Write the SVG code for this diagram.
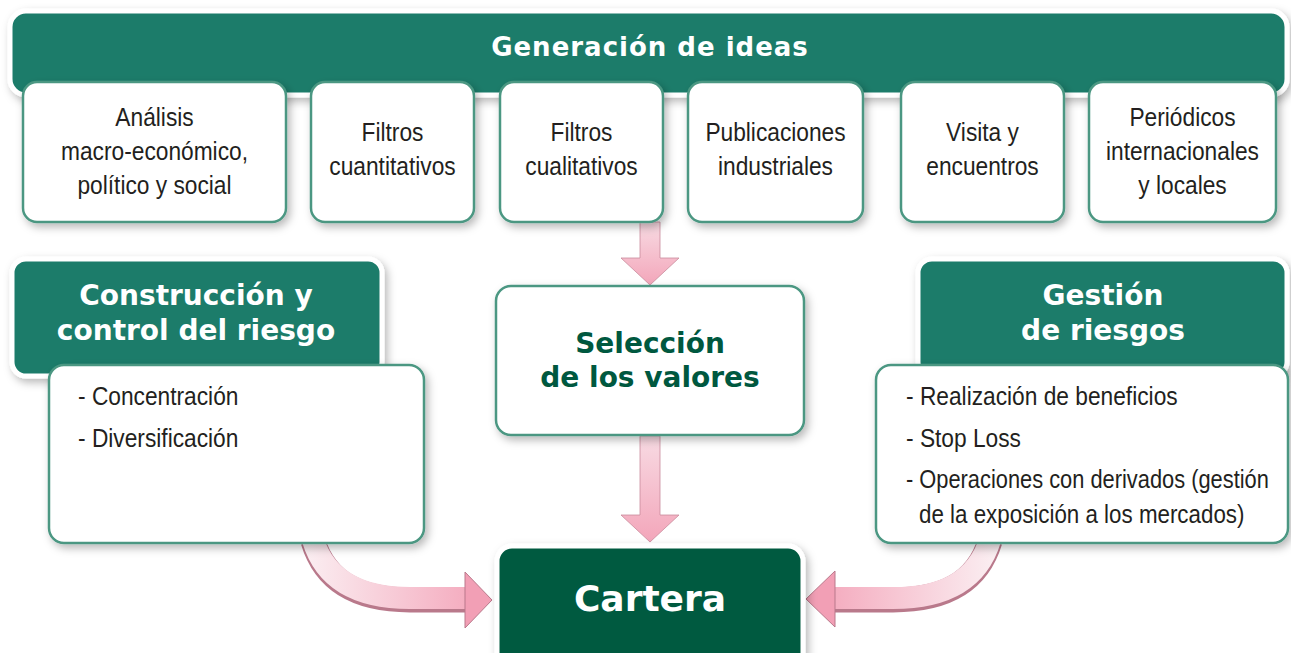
<svg xmlns="http://www.w3.org/2000/svg" width="1291" height="653" viewBox="0 0 1291 653">
<defs>
<style>
.hdr{fill:#1b7b6a;stroke:#fff;stroke-width:5}
.box{fill:#fff;stroke:#4b9782;stroke-width:2.5}
.ttl{font-family:"DejaVu Sans",sans-serif;font-weight:bold;fill:#fff;text-anchor:middle}
.body{font-family:"Liberation Sans",Arial,sans-serif;font-size:26px;fill:#231f20}
.mid{text-anchor:middle}
.sel{font-family:"DejaVu Sans",sans-serif;font-weight:bold;font-size:28px;fill:#00583f;text-anchor:middle}
</style>
<filter id="sh" x="-10%" y="-10%" width="125%" height="130%">
<feDropShadow dx="3" dy="4" stdDeviation="4" flood-color="#000" flood-opacity="0.28"/>
</filter>
<linearGradient id="gv" x1="0" y1="0" x2="0" y2="1">
<stop offset="0" stop-color="#f8dbe3"/>
<stop offset="1" stop-color="#f3a6ba"/>
</linearGradient>
<linearGradient id="gl" gradientUnits="userSpaceOnUse" x1="300" y1="0" x2="480" y2="0">
<stop offset="0" stop-color="#fbf0f3"/>
<stop offset="1" stop-color="#f4a8bc"/>
</linearGradient>
<linearGradient id="gr" gradientUnits="userSpaceOnUse" x1="1000" y1="0" x2="820" y2="0">
<stop offset="0" stop-color="#fbf0f3"/>
<stop offset="1" stop-color="#f4a8bc"/>
</linearGradient>
</defs>
<rect width="1291" height="653" fill="#fff"/>

<g id="connectors">
<g id="arrow-filtros-seleccion">
<path d="M640,222 L660,222 L660,258 L679,258 L650,285 L621,258 L640,258 Z" fill="url(#gv)" stroke="#c98b9c" stroke-width="0.8"/>
</g>
<g id="arrow-seleccion-cartera">
<path d="M640,436 L660,436 L660,515 L679,515 L650,542 L621,515 L640,515 Z" fill="url(#gv)" stroke="#c98b9c" stroke-width="0.8"/>
</g>
<g id="arrow-construccion-cartera">
<path d="M313,541 C326,584 362,600 410,600 L467,600" fill="none" stroke="#b9798b" stroke-width="25"/>
<path d="M313,540 C326,582 362,598 410,598 L467,598" fill="none" stroke="url(#gl)" stroke-width="22"/>
<path d="M465,572 L492,600 L465,628 Z" fill="#f29fb5" stroke="#b9798b" stroke-width="1"/>
</g>
<g id="arrow-gestion-cartera">
<path d="M990,541 C977,584 942,600 893,600 L833,600" fill="none" stroke="#b9798b" stroke-width="25"/>
<path d="M990,540 C977,582 942,598 893,598 L833,598" fill="none" stroke="url(#gr)" stroke-width="22"/>
<path d="M835,571 L806,599 L835,627 Z" fill="#f29fb5" stroke="#b9798b" stroke-width="1"/>
</g>
</g>

<g id="generacion">
<rect class="hdr" x="10" y="11" width="1277" height="84" rx="16" filter="url(#sh)"/>
<text class="ttl" x="650" y="56" font-size="26" letter-spacing="1">Generación de ideas</text>
</g>

<g id="analisis">
<rect class="box" x="23" y="82" width="263" height="140" rx="14" filter="url(#sh)"/>
<text class="body mid" transform="translate(154.5,126) scale(0.875,1)">Análisis</text>
<text class="body mid" transform="translate(154.5,160) scale(0.875,1)">macro-económico,</text>
<text class="body mid" transform="translate(154.5,194) scale(0.875,1)">político y social</text>
</g>
<g id="filtros-cuantitativos">
<rect class="box" x="311" y="82" width="163" height="140" rx="14" filter="url(#sh)"/>
<text class="body mid" transform="translate(392.5,141) scale(0.875,1)">Filtros</text>
<text class="body mid" transform="translate(392.5,175) scale(0.875,1)">cuantitativos</text>
</g>
<g id="filtros-cualitativos">
<rect class="box" x="500" y="82" width="163" height="140" rx="14" filter="url(#sh)"/>
<text class="body mid" transform="translate(581.5,141) scale(0.875,1)">Filtros</text>
<text class="body mid" transform="translate(581.5,175) scale(0.875,1)">cualitativos</text>
</g>
<g id="publicaciones">
<rect class="box" x="688" y="82" width="175" height="140" rx="14" filter="url(#sh)"/>
<text class="body mid" transform="translate(775.5,141) scale(0.875,1)">Publicaciones</text>
<text class="body mid" transform="translate(775.5,175) scale(0.875,1)">industriales</text>
</g>
<g id="visita">
<rect class="box" x="901" y="82" width="163" height="140" rx="14" filter="url(#sh)"/>
<text class="body mid" transform="translate(982.5,141) scale(0.875,1)">Visita y</text>
<text class="body mid" transform="translate(982.5,175) scale(0.875,1)">encuentros</text>
</g>
<g id="periodicos">
<rect class="box" x="1089" y="82" width="187" height="140" rx="14" filter="url(#sh)"/>
<text class="body mid" transform="translate(1182.5,126) scale(0.875,1)">Periódicos</text>
<text class="body mid" transform="translate(1182.5,160) scale(0.875,1)">internacionales</text>
<text class="body mid" transform="translate(1182.5,194) scale(0.875,1)">y locales</text>
</g>

<g id="construccion">
<rect class="hdr" x="12" y="259" width="370" height="117" rx="14" filter="url(#sh)"/>
<text class="ttl" x="196" y="305" font-size="28">Construcción y</text>
<text class="ttl" x="196" y="340" font-size="28">control del riesgo</text>
<rect class="box" x="49" y="365" width="375" height="178" rx="15" filter="url(#sh)"/>
<text class="body" transform="translate(78,405) scale(0.875,1)">- Concentración</text>
<text class="body" transform="translate(78,447) scale(0.875,1)">- Diversificación</text>
</g>

<g id="seleccion">
<rect class="box" x="496" y="286" width="308" height="149" rx="15" filter="url(#sh)"/>
<text class="sel" x="650" y="353">Selección</text>
<text class="sel" x="650" y="387">de los valores</text>
</g>

<g id="gestion">
<rect class="hdr" x="918" y="259" width="369" height="117" rx="14" filter="url(#sh)"/>
<text class="ttl" x="1103" y="305" font-size="28">Gestión</text>
<text class="ttl" x="1103" y="340" font-size="28">de riesgos</text>
<rect class="box" x="876" y="365" width="412" height="178" rx="15" filter="url(#sh)"/>
<text class="body" transform="translate(906,405) scale(0.875,1)">- Realización de beneficios</text>
<text class="body" transform="translate(906,447) scale(0.875,1)">- Stop Loss</text>
<text class="body" transform="translate(906,488) scale(0.84,1)">- Operaciones con derivados (gestión</text>
<text class="body" transform="translate(919,523) scale(0.86,1)">de la exposición a los mercados)</text>
</g>

<g id="cartera">
<rect x="497" y="546" width="306" height="125" rx="15" fill="#005a3f" stroke="#fff" stroke-width="5" filter="url(#sh)"/>
<text class="ttl" x="650" y="611" font-size="36">Cartera</text>
</g>
</svg>
